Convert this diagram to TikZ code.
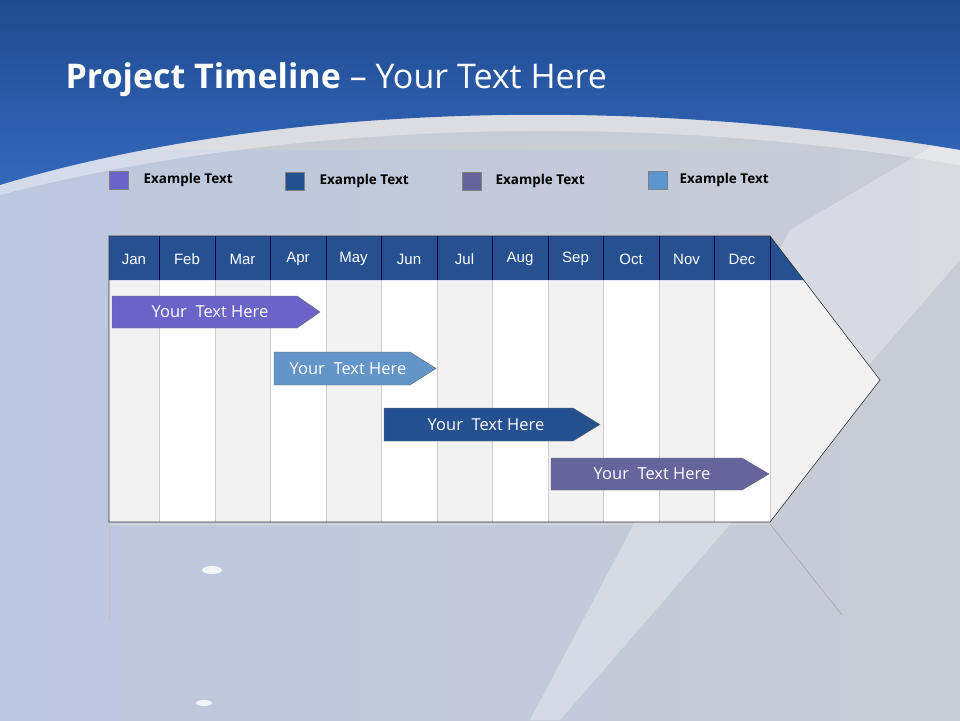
\documentclass[tikz,border=0pt]{standalone}
\usepackage{fontspec}
\setmainfont{Open Sans}
\newfontfamily\arialf{Liberation Sans}
\begin{document}
\begin{tikzpicture}[x=1pt,y=-1pt,
  mon/.style={font=\arialf\fontsize{15}{17}\selectfont, text=white},
  bar/.style={draw=black!60, line width=0.4pt},
  bartxt/.style={font=\fontsize{16.5}{19}\selectfont, text=white},
  leg/.style={draw=black!50, line width=0.4pt},
  legt/.style={font=\fontsize{13.5}{15}\selectfont\bfseries, anchor=west}]
\definecolor{bgtop}{HTML}{1F4A8F}
\definecolor{bgmid}{HTML}{3468BC}
\definecolor{grayb}{HTML}{C8CCD4}
\definecolor{grayl}{HTML}{BCC8E0}
\definecolor{hdr}{HTML}{26508F}
\definecolor{cA}{HTML}{6A64C8}
\definecolor{cB}{HTML}{6495C8}
\definecolor{cC}{HTML}{24508F}
\definecolor{cD}{HTML}{66649C}
\definecolor{legB}{HTML}{5B95D0}
\useasboundingbox (0,0) rectangle (960,720);
% background
\fill[grayb] (0,0) rectangle (960,720);
\shade[left color=grayl, right color=grayb] (0,150) rectangle (960,720);
\fill[white, opacity=0.3] (790,230) -- (960,130) -- (960,260) -- (560,720) -- (530,720) -- cycle;
\shade[top color=bgtop, bottom color=bgmid] (0,0) -- (960,0) -- (960,150) .. controls (600,90) and (250,110) .. (0,185) -- cycle;
\fill[white, opacity=0.35] (0,185) .. controls (250,110) and (600,90) .. (960,150) -- (960,165) .. controls (600,105) and (250,130) .. (0,195) -- cycle;
% title
\node[anchor=west, text=white, font=\fontsize{34}{38}\selectfont] (title) at (62,80) {\textbf{Project Timeline} -- Your Text Here};
% legend
\fill[cA, leg] (109,171) rectangle (128,189); \node[legt] (l1) at (140,180) {Example Text};
\fill[cC, leg] (285,172) rectangle (304,190); \node[legt] (l2) at (316,181) {Example Text};
\fill[cD, leg] (462,172) rectangle (481,190); \node[legt] (l3) at (492,181) {Example Text};
\fill[legB, leg] (648,171) rectangle (667,189); \node[legt] (l4) at (676,180) {Example Text};
% table body
\fill[black!5] (109,236) -- (770,236) -- (880,380) -- (770,522) -- (109,522) -- cycle;
\foreach \a/\b in {159/215,270/326,381/437,492/548,603/659,714/770}
  \fill[white] (\a,280) rectangle (\b,522);
\foreach \x in {159,215,270,326,381,437,492,548,603,659,714,770}
  \draw[black!20] (\x,280) -- (\x,522);
% header
\fill[hdr] (109,236) -- (770,236) -- (804,280) -- (109,280) -- cycle;
\foreach \x in {159,215,270,326,381,437,492,548,603,659,714,770}
  \draw[black!70!blue] (\x,236) -- (\x,280);
\foreach \m [count=\i] in {Jan,Feb,Mar,Apr,May,Jun,Jul,Aug,Sep,Oct,Nov,Dec}{
  \pgfmathsetmacro\L{{0,109,159,215,270,326,381,437,492,548,603,659,714,770}[\i]}
  \pgfmathsetmacro\R{{0,109,159,215,270,326,381,437,492,548,603,659,714,770}[\i+1]}
  \node[mon] (m\i) at ({(\L+\R)/2},259) {\m};}
\draw[black!80, line width=0.6pt] (109,236) -- (770,236) -- (880,380) -- (770,522) -- (109,522) -- cycle;
% bars
\fill[cA, bar] (112,296) -- (297,296) -- (320,312) -- (297,328) -- (112,328) -- cycle;
\node[bartxt] (b1) at (210,312) {Your\ \ Text Here};
\fill[cB, bar] (274,352) -- (410,352) -- (436,368.5) -- (410,385) -- (274,385) -- cycle;
\node[bartxt] (b2) at (348,368.5) {Your\ \ Text Here};
\fill[cC, bar] (384,408) -- (573,408) -- (600,424.5) -- (573,441) -- (384,441) -- cycle;
\node[bartxt] (b3) at (486,424.5) {Your\ \ Text Here};
\fill[cD, bar] (551,458) -- (742,458) -- (769,474) -- (742,490) -- (551,490) -- cycle;
\node[bartxt] (b4) at (652,474) {Your\ \ Text Here};
% reflection
\draw[black!25] (109,524) -- (109,620);
\draw[black!40] (770,524) -- (842,615);
\draw[black!15] (109,524) -- (770,524);
\fill[white, opacity=0.8] (212,570) ellipse (10 and 4);
\fill[white, opacity=0.8] (204,703) ellipse (8 and 3);
\end{tikzpicture}
\end{document}
